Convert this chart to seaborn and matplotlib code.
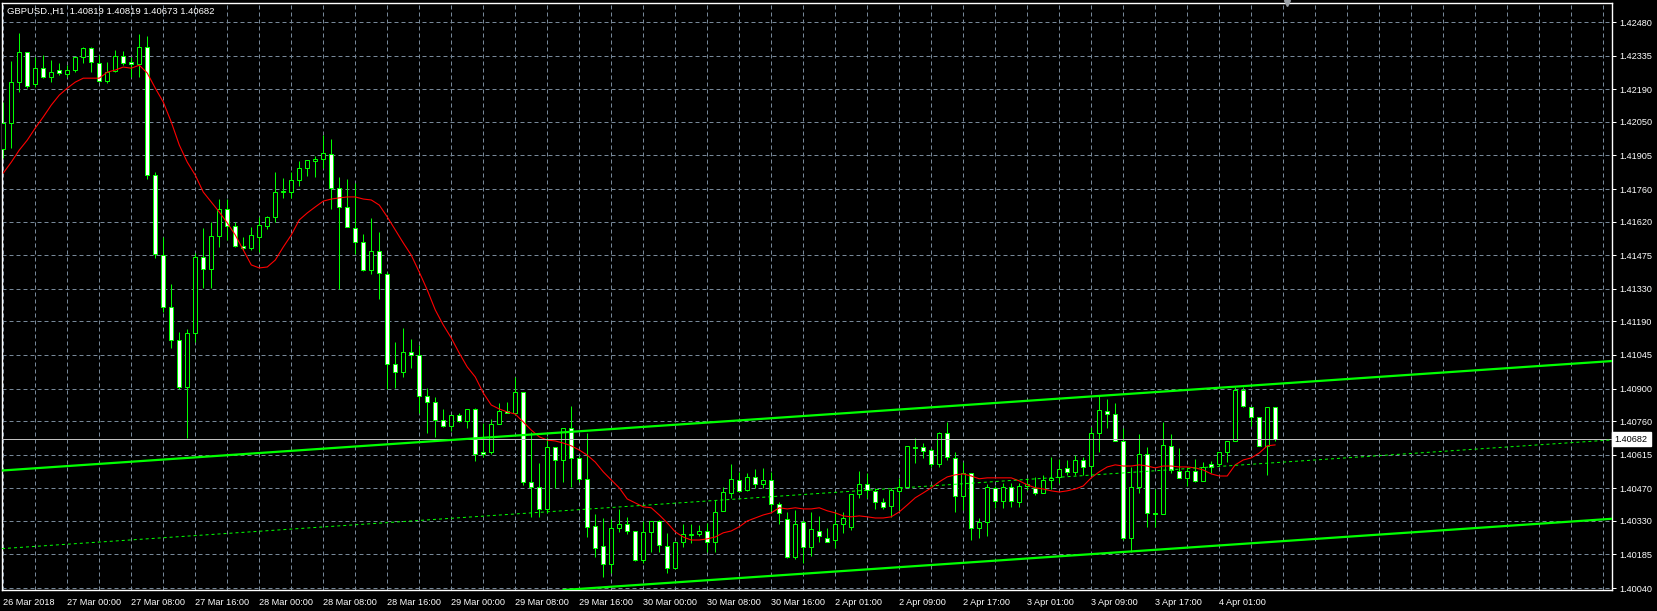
import matplotlib
matplotlib.use("Agg")
import matplotlib.pyplot as plt
import numpy as np
import seaborn as sns

# GBPUSD H1 candles, 26 Mar 16:00 .. 4 Apr 08:00
opens = [
    1.41933, 1.42045, 1.42221, 1.42350, 1.42212, 1.42281, 1.42242, 1.42273, 1.42255, 1.42273,
    1.42329, 1.42368, 1.42303, 1.42225, 1.42268, 1.42333, 1.42307, 1.42299, 1.42372, 1.41820,
    1.41475, 1.41252, 1.41110, 1.40907, 1.41139, 1.41467, 1.41415, 1.41558, 1.41674, 1.41601,
    1.41515, 1.41506, 1.41553, 1.41601, 1.41640, 1.41747, 1.41747, 1.41799, 1.41850, 1.41881,
    1.41889, 1.41911, 1.41764, 1.41683, 1.41592, 1.41532, 1.41411, 1.41493, 1.41394, 1.41006,
    1.40971, 1.41057, 1.41044, 1.40868, 1.40842, 1.40765, 1.40739, 1.40786, 1.40761, 1.40812,
    1.40626, 1.40626, 1.40747, 1.40803, 1.40795, 1.40885, 1.40498, 1.40476, 1.40381, 1.40648,
    1.40592, 1.40730, 1.40600, 1.40511, 1.40308, 1.40221, 1.40144, 1.40299, 1.40317, 1.40286,
    1.40161, 1.40282, 1.40329, 1.40221, 1.40127, 1.40239, 1.40269, 1.40273, 1.40286, 1.40239,
    1.40373, 1.40450, 1.40506, 1.40463, 1.40519, 1.40489, 1.40506, 1.40403, 1.40338, 1.40174,
    1.40325, 1.40217, 1.40286, 1.40256, 1.40247, 1.40317, 1.40304, 1.40446, 1.40489, 1.40459,
    1.40411, 1.40394, 1.40459, 1.40476, 1.40648, 1.40648, 1.40635, 1.40575, 1.40709, 1.40600,
    1.40437, 1.40536, 1.40299, 1.40325, 1.40472, 1.40416, 1.40476, 1.40411, 1.40480, 1.40472,
    1.40450, 1.40506, 1.40519, 1.40558, 1.40541, 1.40592, 1.40566, 1.40709, 1.40803, 1.40790,
    1.40674, 1.40256, 1.40476, 1.40618, 1.40364, 1.40360, 1.40653, 1.40545, 1.40515, 1.40545,
    1.40502, 1.40575, 1.40575, 1.40626, 1.40674, 1.40894, 1.40821, 1.40778, 1.40653, 1.40819,
]
highs = [
    1.42135, 1.42312, 1.42433, 1.42350, 1.42329, 1.42337, 1.42316, 1.42303, 1.42294, 1.42329,
    1.42372, 1.42372, 1.42337, 1.42307, 1.42359, 1.42355, 1.42329, 1.42428, 1.42420, 1.41833,
    1.41553, 1.41350, 1.41144, 1.41157, 1.41484, 1.41592, 1.41618, 1.41717, 1.41717, 1.41618,
    1.41553, 1.41596, 1.41640, 1.41644, 1.41833, 1.41807, 1.41833, 1.41881, 1.41885, 1.41902,
    1.41993, 1.41976, 1.41812, 1.41803, 1.41786, 1.41566, 1.41635, 1.41575, 1.41402, 1.41101,
    1.41161, 1.41114, 1.41088, 1.40903, 1.40864, 1.40812, 1.40786, 1.40795, 1.40812, 1.40816,
    1.40752, 1.40769, 1.40838, 1.40842, 1.40950, 1.40885, 1.40713, 1.40579, 1.40692, 1.40648,
    1.40730, 1.40825, 1.40609, 1.40709, 1.40360, 1.40342, 1.40338, 1.40381, 1.40347, 1.40286,
    1.40329, 1.40329, 1.40334, 1.40278, 1.40239, 1.40317, 1.40317, 1.40312, 1.40321, 1.40420,
    1.40476, 1.40575, 1.40541, 1.40536, 1.40554, 1.40558, 1.40541, 1.40411, 1.40368, 1.40377,
    1.40334, 1.40368, 1.40351, 1.40299, 1.40373, 1.40368, 1.40446, 1.40545, 1.40536, 1.40472,
    1.40429, 1.40472, 1.40515, 1.40653, 1.40687, 1.40665, 1.40644, 1.40713, 1.40756, 1.40626,
    1.40583, 1.40536, 1.40342, 1.40489, 1.40480, 1.40493, 1.40493, 1.40493, 1.40515, 1.40519,
    1.40528, 1.40605, 1.40596, 1.40592, 1.40613, 1.40605, 1.40735, 1.40868, 1.40855, 1.40838,
    1.40730, 1.40562, 1.40704, 1.40648, 1.40467, 1.40756, 1.40704, 1.40644, 1.40562, 1.40596,
    1.40583, 1.40588, 1.40626, 1.40674, 1.40907, 1.40907, 1.40821, 1.40778, 1.40821, 1.40819,
]
lows = [
    1.41894, 1.41937, 1.42178, 1.42195, 1.42199, 1.42238, 1.42221, 1.42251, 1.42242, 1.42264,
    1.42303, 1.42264, 1.42221, 1.42216, 1.42264, 1.42294, 1.42242, 1.42242, 1.41803, 1.41463,
    1.41230, 1.41075, 1.40898, 1.40687, 1.41101, 1.41333, 1.41333, 1.41510, 1.41541, 1.41510,
    1.41497, 1.41497, 1.41489, 1.41588, 1.41618, 1.41722, 1.41722, 1.41773, 1.41816, 1.41812,
    1.41850, 1.41674, 1.41329, 1.41596, 1.41480, 1.41406, 1.41394, 1.41286, 1.40898, 1.40903,
    1.40950, 1.40988, 1.40795, 1.40709, 1.40692, 1.40735, 1.40718, 1.40756, 1.40730, 1.40588,
    1.40605, 1.40618, 1.40747, 1.40795, 1.40786, 1.40485, 1.40347, 1.40347, 1.40364, 1.40472,
    1.40498, 1.40476, 1.40498, 1.40260, 1.40174, 1.40088, 1.40105, 1.40282, 1.40273, 1.40157,
    1.40148, 1.40195, 1.40195, 1.40105, 1.40123, 1.40217, 1.40234, 1.40265, 1.40195, 1.40195,
    1.40373, 1.40429, 1.40454, 1.40459, 1.40472, 1.40472, 1.40373, 1.40317, 1.40170, 1.40165,
    1.40148, 1.40178, 1.40239, 1.40239, 1.40213, 1.40278, 1.40291, 1.40429, 1.40429, 1.40381,
    1.40381, 1.40347, 1.40377, 1.40476, 1.40579, 1.40600, 1.40562, 1.40562, 1.40592, 1.40368,
    1.40377, 1.40247, 1.40256, 1.40265, 1.40386, 1.40386, 1.40390, 1.40390, 1.40463, 1.40442,
    1.40450, 1.40467, 1.40493, 1.40528, 1.40528, 1.40528, 1.40528, 1.40626, 1.40730, 1.40674,
    1.40247, 1.40195, 1.40450, 1.40304, 1.40304, 1.40360, 1.40536, 1.40515, 1.40480, 1.40498,
    1.40502, 1.40536, 1.40566, 1.40583, 1.40674, 1.40821, 1.40739, 1.40653, 1.40528, 1.40673,
]
closes = [
    1.42045, 1.42221, 1.42350, 1.42204, 1.42281, 1.42242, 1.42264, 1.42260, 1.42273, 1.42329,
    1.42368, 1.42307, 1.42225, 1.42264, 1.42333, 1.42303, 1.42299, 1.42372, 1.41820, 1.41480,
    1.41252, 1.41110, 1.40907, 1.41139, 1.41467, 1.41415, 1.41558, 1.41674, 1.41601, 1.41515,
    1.41506, 1.41562, 1.41605, 1.41640, 1.41747, 1.41751, 1.41799, 1.41850, 1.41885, 1.41889,
    1.41915, 1.41764, 1.41683, 1.41596, 1.41532, 1.41411, 1.41493, 1.41398, 1.41006, 1.40971,
    1.41057, 1.41044, 1.40868, 1.40842, 1.40765, 1.40739, 1.40786, 1.40761, 1.40812, 1.40618,
    1.40618, 1.40747, 1.40803, 1.40795, 1.40885, 1.40498, 1.40476, 1.40381, 1.40648, 1.40592,
    1.40730, 1.40600, 1.40511, 1.40304, 1.40213, 1.40144, 1.40299, 1.40317, 1.40286, 1.40161,
    1.40282, 1.40329, 1.40226, 1.40127, 1.40239, 1.40273, 1.40273, 1.40286, 1.40239, 1.40368,
    1.40454, 1.40511, 1.40459, 1.40519, 1.40489, 1.40506, 1.40403, 1.40364, 1.40174, 1.40317,
    1.40217, 1.40295, 1.40265, 1.40239, 1.40317, 1.40342, 1.40446, 1.40489, 1.40463, 1.40411,
    1.40390, 1.40463, 1.40476, 1.40653, 1.40644, 1.40631, 1.40575, 1.40709, 1.40605, 1.40437,
    1.40536, 1.40299, 1.40325, 1.40476, 1.40416, 1.40476, 1.40416, 1.40480, 1.40489, 1.40450,
    1.40506, 1.40515, 1.40554, 1.40541, 1.40592, 1.40562, 1.40709, 1.40808, 1.40790, 1.40674,
    1.40256, 1.40476, 1.40618, 1.40364, 1.40360, 1.40657, 1.40549, 1.40515, 1.40545, 1.40502,
    1.40562, 1.40562, 1.40626, 1.40674, 1.40894, 1.40825, 1.40778, 1.40653, 1.40821, 1.40682,
]
# red moving average, one value per bar
ma_values = [
    1.41829, 1.41876, 1.41928, 1.41971, 1.42023, 1.42071, 1.42122, 1.42165, 1.42195, 1.42221,
    1.42238, 1.42238, 1.42238, 1.42264, 1.42273, 1.42286, 1.42281, 1.42294, 1.42260, 1.42195,
    1.42135, 1.42049, 1.41950, 1.41876, 1.41820, 1.41747, 1.41704, 1.41661, 1.41614, 1.41562,
    1.41497, 1.41433, 1.41420, 1.41424, 1.41454, 1.41510, 1.41562, 1.41627, 1.41657, 1.41683,
    1.41708, 1.41717, 1.41722, 1.41726, 1.41726, 1.41717, 1.41713, 1.41691, 1.41640, 1.41584,
    1.41528, 1.41475, 1.41402, 1.41325, 1.41239, 1.41174, 1.41118, 1.41053, 1.40993, 1.40950,
    1.40881, 1.40829, 1.40812, 1.40799, 1.40790, 1.40756, 1.40721, 1.40692, 1.40678, 1.40674,
    1.40665, 1.40653, 1.40635, 1.40613, 1.40583, 1.40541, 1.40506, 1.40472, 1.40424, 1.40407,
    1.40390, 1.40386, 1.40355, 1.40321, 1.40282, 1.40260, 1.40247, 1.40247, 1.40252, 1.40260,
    1.40278, 1.40286, 1.40304, 1.40329, 1.40342, 1.40355, 1.40364, 1.40386, 1.40381, 1.40386,
    1.40381, 1.40381, 1.40386, 1.40373, 1.40364, 1.40351, 1.40347, 1.40351, 1.40347, 1.40342,
    1.40342, 1.40347, 1.40368, 1.40398, 1.40429, 1.40450, 1.40472, 1.40498, 1.40519, 1.40528,
    1.40532, 1.40523, 1.40511, 1.40515, 1.40515, 1.40515, 1.40515, 1.40502, 1.40485, 1.40472,
    1.40467, 1.40459, 1.40454, 1.40459, 1.40467, 1.40480, 1.40515, 1.40541, 1.40562, 1.40571,
    1.40566, 1.40566, 1.40571, 1.40566, 1.40558, 1.40566, 1.40566, 1.40562, 1.40562, 1.40558,
    1.40549, 1.40532, 1.40523, 1.40523, 1.40571, 1.40592, 1.40601, 1.40622, 1.40653, 1.40657,
]

time_labels = ["26 Mar 2018", "27 Mar 00:00", "27 Mar 08:00", "27 Mar 16:00", "28 Mar 00:00",
               "28 Mar 08:00", "28 Mar 16:00", "29 Mar 00:00", "29 Mar 08:00", "29 Mar 16:00",
               "30 Mar 00:00", "30 Mar 08:00", "30 Mar 16:00", "2 Apr 01:00", "2 Apr 09:00",
               "2 Apr 17:00", "3 Apr 01:00", "3 Apr 09:00", "3 Apr 17:00", "4 Apr 01:00"]
price_ticks = [1.42480, 1.42335, 1.42190, 1.42050, 1.41905, 1.41760, 1.41620, 1.41475, 1.41330,
               1.41190, 1.41045, 1.40900, 1.40760, 1.40615, 1.40470, 1.40330, 1.40185, 1.40040]

# equidistant channel: (bar index, price) anchors
channel_upper = [(0, 1.40547), (200, 1.41016)]
channel_lower = [(127, 1.40165), (200, 1.40336)]
channel_mid = [(127, 1.40506), (200, 1.40676)]

symbol = "GBPUSD.,H1"
shift_bar = 160.5  # chart-shift marker position

GREEN = "#00FF00"
GRID = "#778899"
PX = 72 / 100  # one pixel in points

sns.set_style("dark")
plt.rcParams["font.family"] = ["Liberation Sans", "DejaVu Sans"]

fig = plt.figure(figsize=(16.57, 6.11), dpi=100, facecolor="black")
ax = fig.add_axes([2 / 1657, 21 / 611, 1610 / 1657, 587 / 611])
ax.set_facecolor("black")

idx = np.arange(len(closes))
o = np.array(opens)
c = np.array(closes)
bull = c > o

# candles: wicks then bodies
ax.vlines(idx, lows, highs, color=GREEN, linewidth=PX, zorder=2)
ax.bar(idx, np.abs(c - o), bottom=np.minimum(o, c), width=0.45,
       color=np.where(bull, "black", "white"), edgecolor=GREEN, linewidth=PX, zorder=3)

# moving average
sns.lineplot(x=idx, y=ma_values, ax=ax, color="#FF0000", linewidth=0.8, zorder=4)

# channel lines
ax.axline(channel_upper[0], channel_upper[1], color=GREEN, linewidth=1.6, zorder=5)
ax.axline(channel_lower[0], channel_lower[1], color=GREEN, linewidth=1.6, zorder=5)
ax.axline(channel_mid[0], channel_mid[1], color=GREEN, linewidth=PX,
          linestyle=(0, (3, 3)), zorder=5)

# current price line + label
ax.axhline(closes[-1], color="#C0C0C0", linewidth=PX, zorder=4)
ax.annotate(f"{closes[-1]:.5f}", xy=(1, closes[-1]), xycoords=ax.get_yaxis_transform(),
            xytext=(2, 0), textcoords="offset points", ha="left", va="center",
            fontsize=6.6, color="black", annotation_clip=False,
            bbox=dict(boxstyle="square,pad=0.3", fc="white", ec="white"))

# chart shift marker at the top edge
ax.plot([shift_bar], [1], marker="v", markersize=5, color="#9AA0A6",
        transform=ax.get_xaxis_transform(), clip_on=False, zorder=7)

ax.set_xlim(-0.16, 201.1)
ax.set_ylim(1.400315, 1.425621)

# axes / ticks
ax.set_xticks(np.arange(0, len(time_labels) * 8, 8))
ax.set_xticklabels(time_labels, ha="left")
ax.set_xticks(np.arange(0, 202, 4), minor=True)
ax.yaxis.tick_right()
ax.set_yticks(price_ticks)
ax.set_yticklabels([f"{v:.5f}" for v in price_ticks])
ax.tick_params(axis="both", which="major", colors="white", labelcolor="white",
               length=3, width=PX, labelsize=6.6, pad=2)
ax.tick_params(axis="x", which="minor", length=0)
ax.tick_params(axis="x", which="major", pad=3)
ax.set_xlabel("")
ax.set_ylabel("")

ax.grid(True, which="both", color=GRID, linestyle=(0, (4, 3)), linewidth=PX)
ax.set_axisbelow(True)
for s in ax.spines.values():
    s.set_color("white")
    s.set_linewidth(1.0)

title = f"{symbol}  " + " ".join(f"{v:.5f}" for v in (opens[-1], highs[-1], lows[-1], closes[-1]))
ax.text(0.0031, 0.985, title, transform=ax.transAxes, color="white",
        fontsize=6.8, ha="left", va="center", zorder=6)

fig.savefig("out.png", dpi=100, facecolor="black")
